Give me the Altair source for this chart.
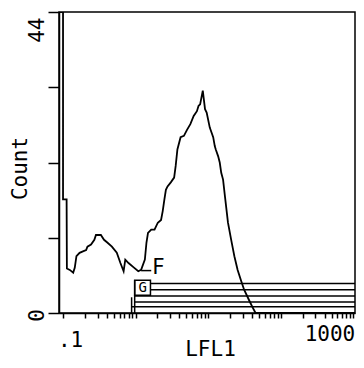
import altair as alt
import pandas as pd

# Histogram trace (LFL1 fluorescence, count per channel)
lfl1 = [0.088, 0.1, 0.1, 0.112, 0.113, 0.124, 0.138, 0.145, 0.153, 0.169, 0.188,
        0.208, 0.217, 0.243, 0.270, 0.284, 0.332, 0.367, 0.407, 0.471, 0.550,
        0.617, 0.683, 0.720, 0.798, 0.931, 1.087, 1.19, 1.34, 1.41, 1.48, 1.64,
        1.82, 2.02, 2.24, 2.36, 2.49, 2.61, 2.75, 3.05, 3.39, 3.56, 3.76, 4.16,
        4.62, 5.12, 5.67, 6.30, 6.98, 7.36, 7.73, 8.41, 9.03, 9.51, 10.5, 11.7,
        12.3, 12.7, 13.7, 14.4, 15.1, 16.0, 17.0, 18.7, 20.7, 22.9, 25.4, 28.2,
        31.2, 36.4, 40.5, 44.8, 1050]
count = [44, 44, 16.6, 16.6, 6.5, 6.3, 5.9, 6.6, 8.3, 8.8, 9.0,
         9.2, 9.7, 10.0, 10.7, 11.4, 11.4, 10.7, 10.3, 9.7, 8.8,
         7.3, 6.1, 7.8, 7.3, 6.7, 6.1, 6.3, 7.8, 10.3, 11.7, 12.2,
         12.2, 13.2, 13.6, 14.9, 16.6, 18.0, 18.5, 19.1, 19.8, 21.5, 23.9, 25.7,
         25.9, 26.8, 27.6, 28.8, 29.5, 30.3, 30.5, 32.5, 29.8, 29.3, 27.1, 25.7,
         24.4, 23.9, 22.9, 22.0, 20.5, 19.5, 17.0, 13.2, 10.7, 8.3, 6.3, 4.8,
         3.4, 1.9, 0.9, 0, 0]

# Axis ticks and labels
y_ticks = [0, 11, 22, 33, 44]
x_ticks = [round(m * 10.0 ** e, 4) for e in range(-1, 3) for m in range(1, 10)] + [1000]

# Gate / marker lines
gate_start = [1.6, 1.6, 0.97, 0.97, 0.88]
gate_end = [1050, 1050, 1050, 1050, 1050]
gate_level = [4.3, 3.4, 2.5, 1.6, 0.9]
gate_tick_x = [0.97, 0.88]
gate_tick_top = [4.8, 2.3]
box_x = [0.97]
box_x2 = [1.6]
box_y = [2.6]
box_y2 = [4.8]
f_start = [1.19]
f_end = [1.64]
f_level = [6.2]
label_text = ["F", "G"]
label_x = [2.05, 1.25]
label_y = [6.6, 3.7]
label_size = [21, 14]

FONT = "DejaVu Sans Mono"

curve_df = pd.DataFrame({"LFL1": lfl1, "Count": count, "order": range(len(lfl1))})
gate_df = pd.DataFrame({"s": gate_start, "e": gate_end, "lvl": gate_level})
gtick_df = pd.DataFrame({"x": gate_tick_x, "top": gate_tick_top, "bot": [0] * len(gate_tick_x)})
box_df = pd.DataFrame({"x": box_x, "x2": box_x2, "y": box_y, "y2": box_y2})
f_df = pd.DataFrame({"s": f_start, "e": f_end, "lvl": f_level})
lab_df = pd.DataFrame({"t": label_text, "x": label_x, "y": label_y, "size": label_size})

xscale = alt.Scale(type="log", domain=[0.088, 1050], nice=False)
yscale = alt.Scale(domain=[0, 44], nice=False, zero=True)

x_axis = alt.Axis(
    values=x_ticks, tickSize=5, grid=False,
    labelExpr="datum.value == 0.1 ? '.1' : (datum.value == 1000 ? '1000' : '')",
    labelAlign="center", labelOffset={"expr": "datum.value < 1 ? 7 : -24"},
    labelBaseline="top", labelPadding={"expr": "datum.value < 1 ? 11 : 5"},
    labelFont=FONT, labelFontSize=21, labelColor="black", labelOverlap=False,
    labelFlush=False,
    title="LFL1", titleFont=FONT, titleFontSize=21, titleFontWeight="normal",
    titleColor="black", titleX=151, titleY=46, titleBaseline="bottom",
    titleAlign="center",
    domainColor="black", domainWidth=1.5, tickColor="black", tickWidth=1.5,
)
y_axis = alt.Axis(
    values=y_ticks, tickSize=11, grid=False,
    labelExpr="datum.value == 0 || datum.value == 44 ? datum.label : ''",
    labelAngle=270, labelAlign={"expr": "datum.value > 40 ? 'right' : 'center'"},
    labelOffset={"expr": "datum.value > 40 ? 5 : 2"},
    labelBaseline="alphabetic", labelPadding=5,
    labelFont=FONT, labelFontSize=21, labelColor="black", labelOverlap=False,
    labelFlush=False,
    title="Count", titleFont=FONT, titleFontSize=21, titleFontWeight="normal",
    titleColor="black", titleAngle=270, titleX=-33, titleY=156,
    titleBaseline="alphabetic", titleAlign="center",
    domainColor="black", domainWidth=1.5, tickColor="black", tickWidth=1.5,
)

curve = alt.Chart(curve_df).mark_line(color="black", strokeWidth=1.8, clip=True).encode(
    x=alt.X("LFL1:Q", scale=xscale, axis=x_axis),
    y=alt.Y("Count:Q", scale=yscale, axis=y_axis),
    order="order:Q",
)

gates = alt.Chart(gate_df).mark_rule(color="black", strokeWidth=1.5, clip=True).encode(
    x=alt.X("s:Q", scale=xscale), x2="e:Q", y=alt.Y("lvl:Q", scale=yscale)
)
gticks = alt.Chart(gtick_df).mark_rule(color="black", strokeWidth=1.5).encode(
    x=alt.X("x:Q", scale=xscale), y=alt.Y("bot:Q", scale=yscale), y2="top:Q"
)
box = alt.Chart(box_df).mark_rect(fill=None, stroke="black", strokeWidth=1.5).encode(
    x=alt.X("x:Q", scale=xscale), x2="x2:Q", y=alt.Y("y:Q", scale=yscale), y2="y2:Q"
)
fline = alt.Chart(f_df).mark_rule(color="black", strokeWidth=1.5).encode(
    x=alt.X("s:Q", scale=xscale), x2="e:Q", y=alt.Y("lvl:Q", scale=yscale)
)
labels = alt.Chart(lab_df).mark_text(font=FONT, color="black", align="center",
                                     baseline="middle").encode(
    x=alt.X("x:Q", scale=xscale), y=alt.Y("y:Q", scale=yscale), text="t:N",
    size=alt.Size("size:Q", scale=None, legend=None),
)

chart = alt.layer(curve, gates, gticks, box, fline, labels).properties(
    width=296, height=301,
    autosize=alt.AutoSizeParams(type="none"),
    padding={"left": 51, "top": 4, "right": 1, "bottom": 47},
    background="white",
).configure_view(stroke="black", strokeWidth=1.5)

chart.save("out.html", embed_options={"renderer": "svg", "actions": False})
